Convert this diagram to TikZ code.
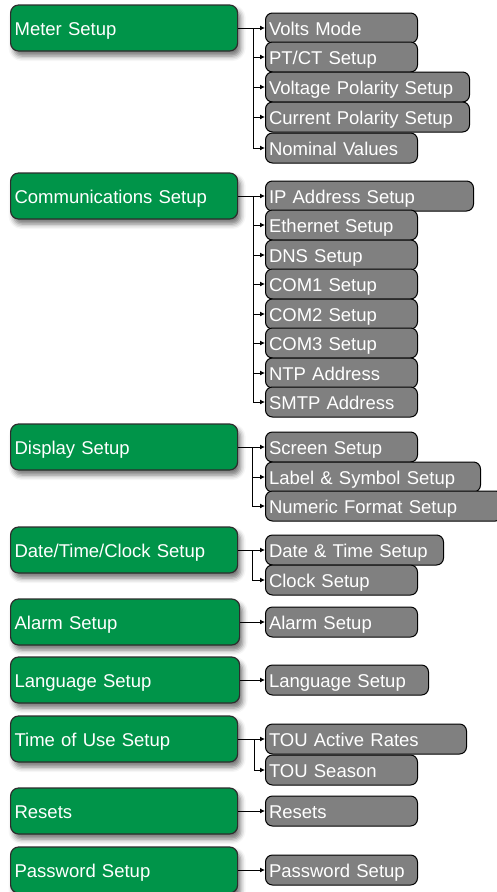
\documentclass[tikz,border=0pt]{standalone}
\usepackage{fontspec}
\setmainfont{Liberation Sans}
\usepackage{tikz}
\usetikzlibrary{arrows.meta,shadows.blur}
\definecolor{menugreen}{RGB}{0,148,73}
\definecolor{menugray}{RGB}{128,128,128}
\definecolor{menuedge}{RGB}{45,45,45}

\begin{document}
\begin{tikzpicture}[x=1pt,y=-1pt,
  every node/.style={font=\fontsize{18.5}{20}\selectfont, text=white},
  mainbox/.style={draw=menuedge, line width=1.2pt, fill=menugreen, rounded corners=8pt,
    anchor=west, minimum height=46pt, text width=219pt, align=left, inner xsep=4pt,
    inner ysep=0pt, text height=14pt, text depth=0pt,
    blur shadow={shadow xshift=3pt, shadow yshift=-5pt, shadow blur radius=5pt, shadow opacity=55}},
  subbox/.style={draw=black, line width=1pt, fill=menugray, rounded corners=7pt,
    anchor=west, minimum height=30pt, text width=#1, align=left, inner xsep=3.5pt,
    inner ysep=0pt, text height=15pt, text depth=0pt},
  link/.style={draw=black, line width=0.9pt, -{Latex[length=5pt,width=5pt]}}]
\useasboundingbox (0,0) rectangle (497,892);

\node[mainbox] (meter)   at (10,28)  {Meter Setup};
\node[mainbox] (comms)   at (10,196) {Communications Setup};
\node[mainbox] (display) at (10,447) {Display Setup};
\node[mainbox] (clock)   at (10,550) {Date/Time/Clock Setup};
\node[mainbox, text width=221pt] (alarm) at (10,622) {Alarm Setup};
\node[mainbox, text width=221pt] (lang)  at (10,680) {Language Setup};
\node[mainbox] (tou)     at (10,739) {Time of Use Setup};
\node[mainbox] (resets)  at (10,811) {Resets};
\node[mainbox] (passwd)  at (10,870) {Password Setup};

\node[subbox=145pt] (volts)   at (265,28)  {Volts Mode};
\node[subbox=145pt] (ptct)    at (265,57)  {PT/CT Setup};
\node[subbox=197pt] (vpol)    at (265,87)  {Voltage Polarity Setup};
\node[subbox=197pt] (cpol)    at (265,117) {Current Polarity Setup};
\node[subbox=145pt] (nominal) at (265,148) {Nominal Values};

\node[subbox=201pt] (ip)       at (265,196) {IP Address Setup};
\node[subbox=145pt] (eth)      at (265,225) {Ethernet Setup};
\node[subbox=145pt] (dns)      at (265,255) {DNS Setup};
\node[subbox=145pt] (comone)   at (265,284) {COM1 Setup};
\node[subbox=145pt] (comtwo)   at (265,314) {COM2 Setup};
\node[subbox=145pt] (comthree) at (265,343) {COM3 Setup};
\node[subbox=145pt] (ntp)      at (265,373) {NTP Address};
\node[subbox=145pt] (smtp)     at (265,402) {SMTP Address};

\node[subbox=145pt] (screen)  at (265,447) {Screen Setup};
\node[subbox=208pt] (label)   at (265,477) {Label \& Symbol Setup};
\node[subbox=230pt] (numeric) at (265,506) {Numeric Format Setup};

\node[subbox=171pt] (datetime) at (265,550) {Date \& Time Setup};
\node[subbox=145pt] (clockset) at (265,580) {Clock Setup};

\node[subbox=145pt] (alarmset) at (265,622) {Alarm Setup};
\node[subbox=156pt] (langset)  at (265,680) {Language Setup};

\node[subbox=194pt] (touact)    at (265,739) {TOU Active Rates};
\node[subbox=145pt] (touseason) at (265,770) {TOU Season};

\node[subbox=145pt] (resetset)  at (265,811) {Resets};
\node[subbox=145pt] (passwdset) at (265,870) {Password Setup};

\draw[link] (meter.east) -- (volts.west);
\draw[link] (meter.east) -- (253,28) |- (ptct.west);
\draw[link] (meter.east) -- (253,28) |- (vpol.west);
\draw[link] (meter.east) -- (253,28) |- (cpol.west);
\draw[link] (meter.east) -- (253,28) |- (nominal.west);

\draw[link] (comms.east) -- (ip.west);
\draw[link] (comms.east) -- (253,196) |- (eth.west);
\draw[link] (comms.east) -- (253,196) |- (dns.west);
\draw[link] (comms.east) -- (253,196) |- (comone.west);
\draw[link] (comms.east) -- (253,196) |- (comtwo.west);
\draw[link] (comms.east) -- (253,196) |- (comthree.west);
\draw[link] (comms.east) -- (253,196) |- (ntp.west);
\draw[link] (comms.east) -- (253,196) |- (smtp.west);

\draw[link] (display.east) -- (screen.west);
\draw[link] (display.east) -- (252,447) |- (label.west);
\draw[link] (display.east) -- (252,447) |- (numeric.west);

\draw[link] (clock.east) -- (datetime.west);
\draw[link] (clock.east) -- (252,550) |- (clockset.west);

\draw[link] (alarm.east) -- (alarmset.west);
\draw[link] (lang.east) -- (langset.west);

\draw[link] (tou.east) -- (touact.west);
\draw[link] (tou.east) -- (254,739) |- (touseason.west);

\draw[link] (resets.east) -- (resetset.west);
\draw[link] (passwd.east) -- (passwdset.west);
\end{tikzpicture}
\end{document}
